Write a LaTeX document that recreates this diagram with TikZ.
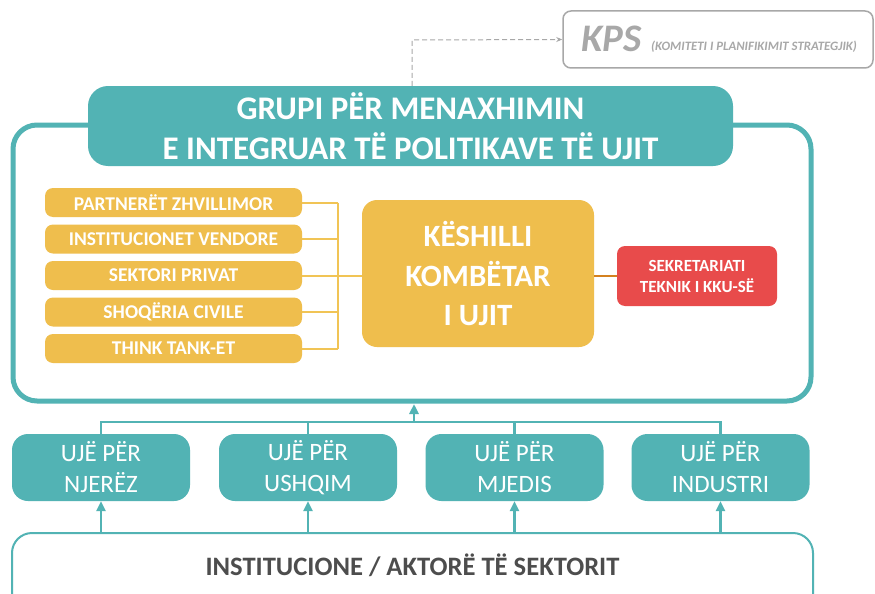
\documentclass[tikz,border=0pt]{standalone}
\usepackage{fontspec}
\setmainfont{Carlito}
\usetikzlibrary{arrows.meta}
\definecolor{tealc}{HTML}{52B3B4}
\definecolor{yelc}{HTML}{EFBE4D}
\definecolor{ylinec}{HTML}{F1C455}
\definecolor{redc}{HTML}{E84B4B}
\definecolor{orangec}{HTML}{D4811F}
\definecolor{grayc}{HTML}{A8A8A8}
\definecolor{darktext}{HTML}{4D4D4D}
\begin{document}
\begin{tikzpicture}[x=1pt,y=-1pt,
  tealbox/.style={fill=tealc, draw=none, text=white, align=center, inner sep=0pt},
  ybox/.style={fill=yelc, draw=none, rounded corners=8pt, minimum width=257pt, minimum height=29pt, inner sep=0pt, text=white, font=\bfseries\fontsize{19.5}{22}\selectfont},
  ujebox/.style={tealbox, rounded corners=16pt, minimum width=178pt, minimum height=67pt, font=\fontsize{25}{31}\selectfont},
  yline/.style={draw=ylinec, line width=2pt},
  tline/.style={draw=tealc, line width=2.5pt},
  tarrow/.style={tline, -{Triangle[length=10pt,width=9pt]}},
]
\clip (0,0) rectangle (875,594);
\fill[white] (0,0) rectangle (875,594);

% KPS
\node[draw=grayc, line width=1.5pt, rounded corners=8pt, minimum width=310pt, minimum height=57pt, inner sep=0pt] (kps) at (718,39.5) {};
\node[anchor=base west, inner sep=0pt, text=grayc, font=\bfseries\itshape\fontsize{39}{40}\selectfont] (kpst) at (581,52) {KPS};
\node[anchor=base west, inner sep=0pt, text=grayc, font=\bfseries\itshape\fontsize{12.8}{14}\selectfont] (kpss) at (651,51) {(KOMITETI I PLANIFIKIMIT STRATEGJIK)};

% frame
\node[draw=tealc, fill=white, line width=5pt, rounded corners=24pt, minimum width=798pt, minimum height=276pt, inner sep=0pt] (frame) at (412,263) {};

% title
\node[tealbox, rounded corners=20pt, minimum width=645pt, minimum height=80pt, font=\bfseries\fontsize{33}{40}\selectfont] (title) at (410.5,126) {GRUPI PËR MENAXHIMIN\\E INTEGRUAR TË POLITIKAVE TË UJIT};

\coordinate (dk) at (412,40);
\draw[grayc, line width=1pt, dash pattern=on 5pt off 3pt, -{Stealth[length=6pt,width=5pt]}] (title.north -| dk) -- (dk) -- (kps.west);

% yellow boxes
\node[ybox] (p1) at (173.5,202.5) {PARTNERËT ZHVILLIMOR};
\node[ybox] (p2) at (173.5,239) {INSTITUCIONET VENDORE};
\node[ybox] (p3) at (173.5,275.5) {SEKTORI PRIVAT};
\node[ybox] (p4) at (173.5,312) {SHOQËRIA CIVILE};
\node[ybox] (p5) at (173.5,348.5) {THINK TANK-ET};

\node[fill=yelc, rounded corners=15pt, minimum width=232pt, minimum height=147pt, inner sep=0pt, text=white, align=center, font=\bfseries\fontsize{31}{39.5}\selectfont] (kk) at (478,273.5) {KËSHILLI\\KOMBËTAR\\I UJIT};
\node[fill=redc, rounded corners=8pt, minimum width=160pt, minimum height=60pt, inner sep=0pt, text=white, align=center, font=\bfseries\fontsize{17}{21}\selectfont] (sek) at (697,276) {SEKRETARIATI\\TEKNIK I KKU-SË};

\coordinate (bus) at (338,275.5);
\foreach \p in {p1,p2,p3,p4,p5} {\draw[yline] (\p.east) -- (\p.east -| bus);}
\draw[yline] (p1.east -| bus) -- (p5.east -| bus);
\draw[yline] (bus) -- (bus -| kk.west);
\draw[orangec, line width=2.5pt] (sek.west -| kk.east) -- (sek.west);

% uje boxes
\node[ujebox] (u1) at (101,467.5) {UJË PËR\\NJERËZ};
\node[ujebox] (u2) at (308,467.5) {UJË PËR\\USHQIM};
\node[ujebox] (u3) at (514.5,467.5) {UJË PËR\\MJEDIS};
\node[ujebox] (u4) at (720.5,467.5) {UJË PËR\\INDUSTRI};

\coordinate (tb) at (414,422);
\draw[tline] (u1.north) -- (u1.north |- tb) -- (u4.north |- tb) -- (u4.north);
\draw[tline] (u2.north) -- (u2.north |- tb);
\draw[tline] (u3.north) -- (u3.north |- tb);
\draw[tarrow] (tb) -- (414,404);

% bottom
\node[draw=tealc, fill=white, line width=2pt, rounded corners=20pt, minimum width=801pt, minimum height=120pt, inner sep=0pt] (inst) at (412.5,593) {};
\node[text=darktext, font=\bfseries\fontsize{26.6}{30}\selectfont, inner sep=0pt] (instt) at (412.5,565) {INSTITUCIONE / AKTORË TË SEKTORIT};
\foreach \u in {u1,u2,u3,u4} {\draw[tarrow] (\u.south |- inst.north) -- (\u.south);}
\end{tikzpicture}
\end{document}
